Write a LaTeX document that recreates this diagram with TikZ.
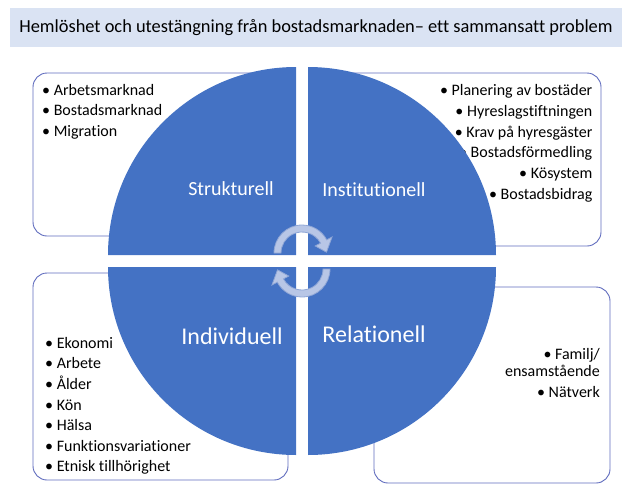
\documentclass[tikz,border=0pt]{standalone}
\usepackage{fontspec}
\setmainfont{Carlito}[Ligatures=NoCommon]
\definecolor{qblue}{RGB}{68,114,196}
\definecolor{titlefill}{RGB}{218,227,243}
\definecolor{boxline}{RGB}{96,108,190}
\definecolor{arrfill}{RGB}{184,198,230}
\definecolor{arrline}{RGB}{143,166,214}
\begin{document}
\begin{tikzpicture}[x=1pt,y=1pt,yscale=-1,
  titlebar/.style={fill=titlefill, minimum width=612pt, minimum height=39pt, inner sep=0pt, font=\fontsize{18.4}{21}\selectfont},
  listbox/.style={draw=boxline, line width=0.9pt, rounded corners=14pt, fill=white},
  itemtext/.style={inner sep=0pt, font=\fontsize{16}{19}\selectfont, text=black},
  quadfill/.style={fill=qblue, draw=none},
  qlabel/.style={inner sep=0pt, text=white, font=\fontsize{20}{24}\selectfont},
  qlabelbig/.style={inner sep=0pt, text=white, font=\fontsize{24}{28}\selectfont},
  cyclearrow/.style={fill=arrfill, draw=arrline, line width=0.8pt}
]
\useasboundingbox (0,0) rectangle (640,490);

% title
\node[titlebar] (title) at (316,27.5) {Hemlöshet och utestängning från bostadsmarknaden– ett sammansatt problem};

% boxes
\draw[listbox] (33,73) rectangle (280,236);
\draw[listbox] (325,73) rectangle (601,246);
\draw[listbox] (33,273) rectangle (288,480);
\draw[listbox] (374,287) rectangle (610,483);

% lists
\foreach \t [count=\i from 0] in {Arbetsmarknad, Bostadsmarknad, Migration}
  \node[itemtext, anchor=base west] (tl\i) at (42,{95.7+20.2*\i}) {• \t};
\foreach \t [count=\i from 0] in {Planering av bostäder, Hyreslagstiftningen, Krav på hyresgäster, Bostadsförmedling, Kösystem, Bostadsbidrag}
  \node[itemtext, anchor=base east] (tr\i) at (592.5,{95.7+20.7*\i}) {• \t};
\foreach \t [count=\i from 0] in {Ekonomi, Arbete, Ålder, Kön, Hälsa, Funktionsvariationer, Etnisk tillhörighet}
  \node[itemtext, anchor=base west] (bl\i) at (45,{348.3+20.6*\i}) {• \t};
\node[itemtext, anchor=base east] (br0) at (600,359.3) {• Familj/};
\node[itemtext, anchor=base east] (br1) at (600,376.7) {ensamstående};
\node[itemtext, anchor=base east] (br2) at (600,397.3) {• Nätverk};

% quadrants
\fill[quadfill] (296,255) -- (108,255) arc[start angle=180, end angle=270, radius=188] -- cycle;
\fill[quadfill] (308,255) -- (308,67) arc[start angle=270, end angle=360, radius=188] -- cycle;
\fill[quadfill] (308,267) -- (496,267) arc[start angle=0, end angle=90, radius=188] -- cycle;
\fill[quadfill] (296,267) -- (296,455) arc[start angle=90, end angle=180, radius=188] -- cycle;

% quadrant labels
\node[qlabel, anchor=base] (strukt) at (231,195.5) {Strukturell};
\node[qlabel, anchor=base] (inst) at (374,196.5) {Institutionell};
\node[qlabelbig, anchor=base] (indiv) at (232,344) {Individuell};
\node[qlabelbig, anchor=base] (rel) at (374,342) {Relationell};

% cycle arrows
\begin{scope}[shift={(302,253)}]
\draw[cyclearrow] (180:28) arc[start angle=180, end angle=332, radius=28] -- (332:34) -- (358:24.5) -- (332:15) -- (332:21) arc[start angle=332, end angle=180, radius=21] -- cycle;
\end{scope}
\begin{scope}[shift={(302,269)}]
\draw[cyclearrow] (0:28) arc[start angle=0, end angle=152, radius=28] -- (152:34) -- (178:24.5) -- (152:15) -- (152:21) arc[start angle=152, end angle=0, radius=21] -- cycle;
\end{scope}
\end{tikzpicture}
\end{document}
